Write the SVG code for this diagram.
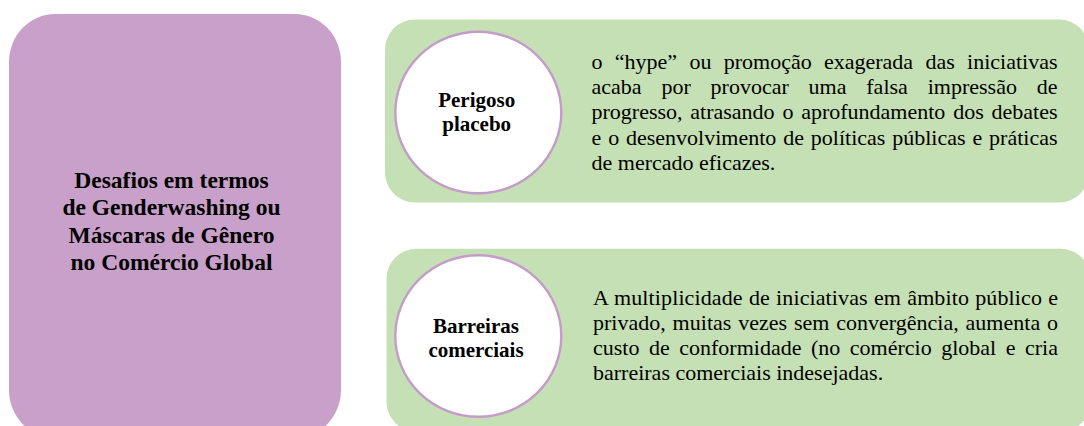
<svg xmlns="http://www.w3.org/2000/svg" width="1084" height="426" viewBox="0 0 1084 426">
<style>
.main{fill:#c8a0c9}
.panel{fill:#c5e0b4}
.bubble{fill:#ffffff;stroke:#c49cc8;stroke-width:2.4}
.bold{font-family:"Liberation Serif",serif;font-weight:bold;fill:#000;text-anchor:middle}
.body{font-family:"Liberation Serif",serif;font-size:22px;fill:#000}
</style>
<rect width="1084" height="426" fill="#ffffff"/>
<g id="connectors"/>
<g id="node-main">
<rect class="main" x="9" y="14" width="332" height="424" rx="46" ry="48"/>
<text class="bold" font-size="23.5" x="171.5" y="188">Desafios em termos</text>
<text class="bold" font-size="23.5" x="171.5" y="215.3">de Genderwashing ou</text>
<text class="bold" font-size="23.5" x="171.5" y="242.6">Máscaras de Gênero</text>
<text class="bold" font-size="23.5" x="171.5" y="270">no Comércio Global</text>
</g>
<g id="node-panel-1">
<rect class="panel" x="385" y="19.5" width="704" height="183" rx="30" ry="30"/>
<text class="body" x="591.5" y="69" word-spacing="6.8" textLength="466" lengthAdjust="spacing">o “hype” ou promoção exagerada das iniciativas</text>
<text class="body" x="591.5" y="94.2" word-spacing="14.3" textLength="466" lengthAdjust="spacing">acaba por provocar uma falsa impressão de</text>
<text class="body" x="591.5" y="119.4" word-spacing="2.3" textLength="466" lengthAdjust="spacing">progresso, atrasando o aprofundamento dos debates</text>
<text class="body" x="591.5" y="144.6" word-spacing="1.4" textLength="466" lengthAdjust="spacing">e o desenvolvimento de políticas públicas e práticas</text>
<text class="body" x="591.5" y="169.8">de mercado eficazes.</text>
</g>
<g id="node-perigoso">
<ellipse class="bubble" cx="478.3" cy="112.5" rx="83" ry="80.8"/>
<text class="bold" font-size="21" x="476.7" y="106.7">Perigoso</text>
<text class="bold" font-size="21" x="476.7" y="130.7">placebo</text>
</g>
<g id="node-panel-2">
<rect class="panel" x="386.5" y="248.7" width="704" height="183" rx="30" ry="30"/>
<text class="body" x="593" y="304.5" word-spacing="0.6" textLength="465" lengthAdjust="spacing">A multiplicidade de iniciativas em âmbito público e</text>
<text class="body" x="593" y="329.8" word-spacing="1.3" textLength="465" lengthAdjust="spacing">privado, muitas vezes sem convergência, aumenta o</text>
<text class="body" x="593" y="355.1" word-spacing="4" textLength="465" lengthAdjust="spacing">custo de conformidade (no comércio global e cria</text>
<text class="body" x="593" y="380.4">barreiras comerciais indesejadas.</text>
</g>
<g id="node-barreiras">
<ellipse class="bubble" cx="478.3" cy="336" rx="83" ry="80.7"/>
<text class="bold" font-size="21" x="476" y="333.3">Barreiras</text>
<text class="bold" font-size="21" x="476" y="357">comerciais</text>
</g>
</svg>
